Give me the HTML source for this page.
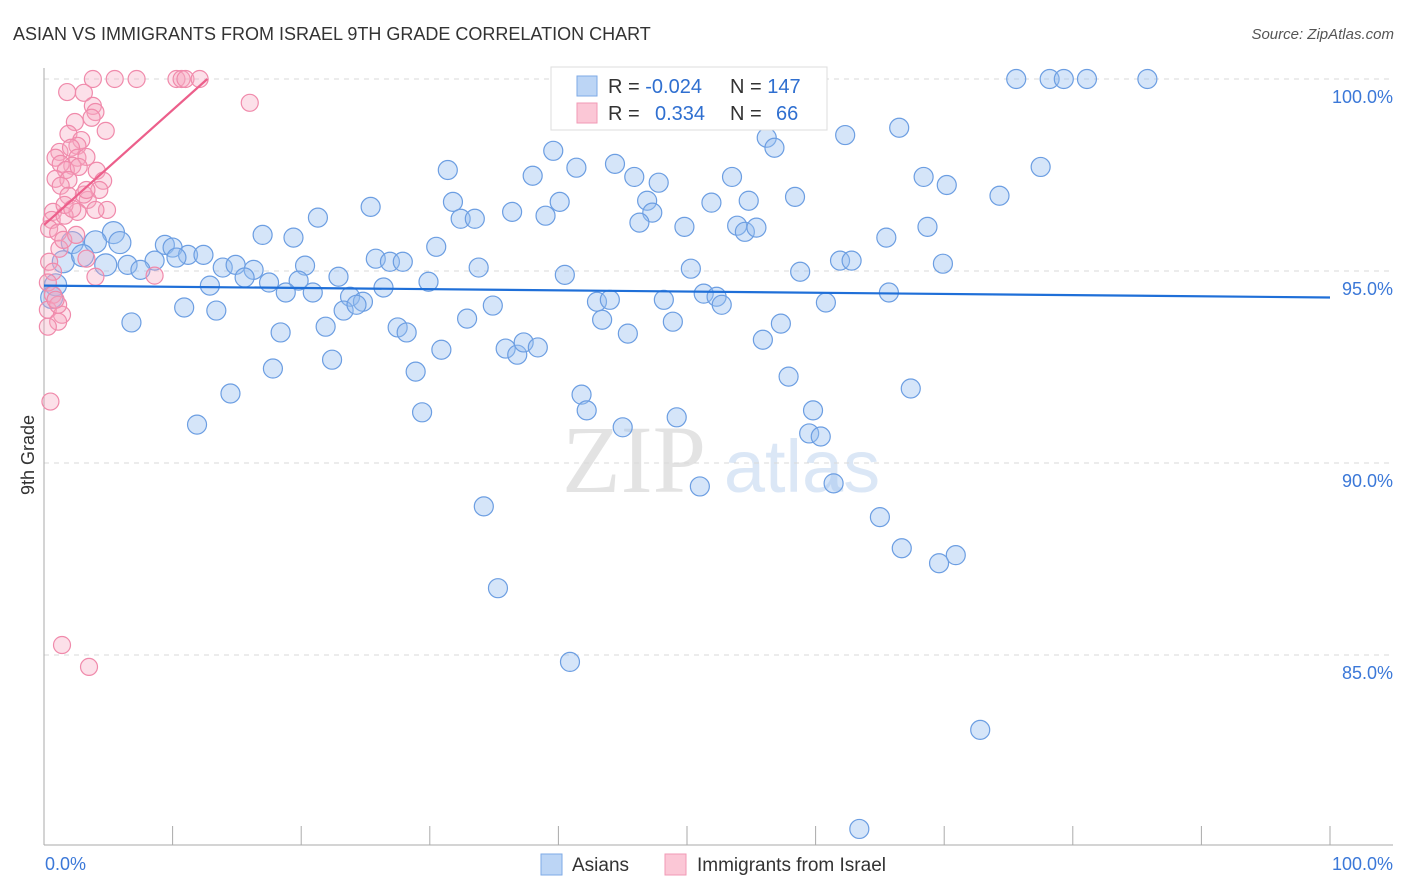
<!DOCTYPE html>
<html><head><meta charset="utf-8"><style>
body{margin:0;background:#fff;font-family:"Liberation Sans",sans-serif;}
svg{display:block}
</style></head><body>
<svg id="chart" width="1406" height="892" viewBox="0 0 1406 892">
<text x="13" y="40" font-size="18" fill="#333">ASIAN VS IMMIGRANTS FROM ISRAEL 9TH GRADE CORRELATION CHART</text>
<text x="1394" y="39" font-size="15" fill="#555" font-style="italic" text-anchor="end">Source: ZipAtlas.com</text>
<text transform="translate(34,455) rotate(-90)" font-size="18" fill="#333" text-anchor="middle">9th Grade</text>
<g opacity="0.5">
<text x="634" y="492" font-size="96" font-family="Liberation Serif,serif" fill="#c9c9c9" text-anchor="middle">ZIP</text>
<text x="802" y="492" font-size="74" fill="#b9d0ee" text-anchor="middle">atlas</text>
</g>
<g id="grid"></g>
<g id="axes"></g>
<g id="marks"></g>
<g id="legend-top">
<rect x="551" y="67" width="276" height="63" fill="#fff" stroke="#ddd"/>
<rect x="577" y="76" width="20" height="20" fill="#bcd5f5" stroke="#7eaae6"/>
<rect x="577" y="103" width="20" height="20" fill="#fbc7d6" stroke="#f19ab5"/>
<text x="608" y="93" font-size="20" fill="#333">R = <tspan fill="#2f6fd0">-0.024</tspan></text>
<text x="730" y="93" font-size="20" fill="#333">N = <tspan fill="#2f6fd0">147</tspan></text>
<text x="608" y="120" font-size="20" fill="#333">R = <tspan fill="#2f6fd0" x="655">0.334</tspan></text>
<text x="730" y="120" font-size="20" fill="#333">N = <tspan fill="#2f6fd0" x="776">66</tspan></text>
</g>
<g>
<rect x="541" y="854" width="21" height="21" fill="#bcd5f5" stroke="#7eaae6"/>
<text x="572" y="871" font-size="19" fill="#333">Asians</text>
<rect x="665" y="854" width="21" height="21" fill="#fbc7d6" stroke="#f19ab5"/>
<text x="697" y="871" font-size="19" fill="#333">Immigrants from Israel</text>
</g>
</svg>
<script>
const blueX=[75.6,78.2,79.3,81.1,85.8,66.5,62.3,56.2,56.8,39.6,31.4,38.0,41.4,44.4,45.9,47.8,53.5,68.4,70.2,77.5,74.3,58.4,54.8,51.9,46.9,40.1,36.4,39.0,31.8,25.4,21.3,32.4,33.5,47.3,46.3,49.8,53.9,54.5,55.4,65.5,68.7,17.0,19.4,5.4,2.2,4.0,5.9,9.4,10.0,11.2,12.4,30.5,8.6,10.3,1.5,3.0,4.8,6.5,7.5,13.9,14.9,16.3,15.6,17.5,20.3,25.8,26.9,27.9,33.8,40.5,50.3,58.8,61.9,62.8,69.9,22.9,19.8,18.8,20.9,23.8,24.8,26.4,29.9,12.9,0.9,0.6,10.9,13.4,6.8,23.3,24.3,34.9,43.0,44.0,48.2,51.3,52.3,52.7,60.8,65.7,21.9,27.5,28.2,32.9,43.4,48.9,57.3,18.4,30.9,35.9,36.8,37.3,38.4,45.4,55.9,22.4,17.8,28.9,57.9,14.5,41.8,67.4,42.2,29.4,59.8,49.2,11.9,45.0,59.5,60.4,51.0,61.4,34.2,65.0,66.7,70.9,69.6,35.3,40.9,72.8,63.4];
const blueY=[100,100,100,100,100,98.73,98.54,98.47,98.21,98.13,97.63,97.48,97.69,97.79,97.45,97.30,97.45,97.45,97.24,97.71,96.96,96.93,96.83,96.78,96.83,96.80,96.54,96.44,96.80,96.67,96.39,96.36,96.36,96.52,96.26,96.15,96.18,96.02,96.13,95.87,96.15,95.94,95.87,96.00,95.74,95.76,95.74,95.68,95.61,95.42,95.42,95.63,95.27,95.35,95.24,95.40,95.16,95.16,95.03,95.09,95.16,95.03,94.83,94.70,95.14,95.32,95.24,95.24,95.09,94.90,95.06,94.98,95.27,95.27,95.19,94.85,94.75,94.44,94.44,94.33,94.20,94.57,94.72,94.62,94.64,94.31,94.05,93.97,93.66,93.97,94.12,94.10,94.20,94.25,94.25,94.41,94.33,94.12,94.18,94.44,93.55,93.53,93.40,93.76,93.73,93.68,93.63,93.40,92.95,92.98,92.82,93.14,93.01,93.37,93.21,92.69,92.46,92.38,92.25,91.81,91.78,91.94,91.37,91.32,91.37,91.19,91.00,90.93,90.77,90.69,89.39,89.47,88.87,88.59,87.78,87.60,87.39,86.74,84.82,83.05,80.47];
const pinkX=[3.8,5.5,7.2,10.3,10.7,11.0,12.1,1.8,3.1,16.0,3.8,4.0,3.7,2.4,4.8,1.9,2.9,2.6,1.2,2.1,0.9,2.6,3.3,2.2,1.3,1.7,4.1,2.7,0.9,1.9,4.6,4.3,1.3,3.4,4.9,0.7,2.6,0.6,1.6,0.4,1.1,1.2,0.4,0.7,0.3,0.7,0.3,1.4,1.1,0.3,8.6,3.3,4.0,1.5,0.5,1.4,3.5,1.1,0.9,2.5,4.0,1.9,3.1,1.6,2.2,3.3];
const pinkY=[100,100,100,100,100,100,100,99.66,99.64,99.38,99.30,99.14,98.99,98.88,98.65,98.57,98.41,98.26,98.10,98.21,97.95,97.95,97.97,97.74,97.79,97.63,97.61,97.71,97.40,97.37,97.35,97.11,97.22,96.85,96.59,96.54,96.54,96.33,96.44,96.10,96.00,95.58,95.24,94.98,94.70,94.38,93.99,93.86,93.68,93.55,94.88,95.32,94.85,95.81,91.60,85.26,84.69,94.12,94.25,95.94,96.59,96.96,96.99,96.72,96.62,97.11];
const blueTrend=[94.62,94.31];
const pinkTrendX=[0,12.7];
const pinkTrendY=[96.2,100];
const yTicks=[100,95,90,85];
const yTickLabels=["100.0%","95.0%","90.0%","85.0%"];
const xTicks=[0,10,20,30,40,50,60,70,80,90,100];

const NS="http://www.w3.org/2000/svg";
const X=v=>44+v*12.86;
const Y=v=>79+(100-v)*38.4;
function mk(tag,attrs,parent){const e=document.createElementNS(NS,tag);for(const k in attrs)e.setAttribute(k,attrs[k]);parent.appendChild(e);return e;}
const grid=document.getElementById('grid'),axes=document.getElementById('axes'),marks=document.getElementById('marks');
yTicks.forEach((t,i)=>{
  const l=mk('line',{x1:44,x2:1393,y1:Y(t),y2:Y(t),stroke:'#d8d8d8','stroke-dasharray':'5,5'},grid);
  
  
  const tx=mk('text',{x:1393,y:Y(t)+24,'font-size':18,fill:'#3b78d8','text-anchor':'end'},axes);
  tx.textContent=yTickLabels[i];
  
  
});
const ya=mk('line',{x1:44,x2:44,y1:68,y2:845,stroke:'#aaa'},axes);


const xa=mk('line',{x1:44,x2:1393,y1:845,y2:845,stroke:'#aaa'},axes);


xTicks.forEach(t=>{
  const l=mk('line',{x1:X(t),x2:X(t),y1:826,y2:845,stroke:'#aaa'},axes);
  
  
});
const x0=mk('text',{x:45,y:870,'font-size':18,fill:'#3b78d8'},axes);x0.textContent='0.0%';


const x1=mk('text',{x:1393,y:870,'font-size':18,fill:'#3b78d8','text-anchor':'end'},axes);x1.textContent='100.0%';



blueX.forEach((v,i)=>{
  const r=v<6?11:9.5;
  const c=mk('circle',{cx:X(v),cy:Y(blueY[i]),r:r,fill:'rgba(150,190,240,0.4)',stroke:'#6c9ee2','stroke-width':1.2},marks);
  
  
});
pinkX.forEach((v,i)=>{
  const c=mk('circle',{cx:X(v),cy:Y(pinkY[i]),r:8.5,fill:'rgba(246,165,192,0.35)',stroke:'#f08aab','stroke-width':1.2},marks);
  
  
});
const bl=mk('line',{x1:X(0),x2:X(100),y1:Y(blueTrend[0]),y2:Y(blueTrend[1]),stroke:'#1f6fd8','stroke-width':2.2},marks);


const pl=mk('line',{x1:X(pinkTrendX[0]),x2:X(pinkTrendX[1]),y1:Y(pinkTrendY[0]),y2:Y(pinkTrendY[1]),stroke:'#ec5f8b','stroke-width':2.2},marks);


</script>
</body></html>
